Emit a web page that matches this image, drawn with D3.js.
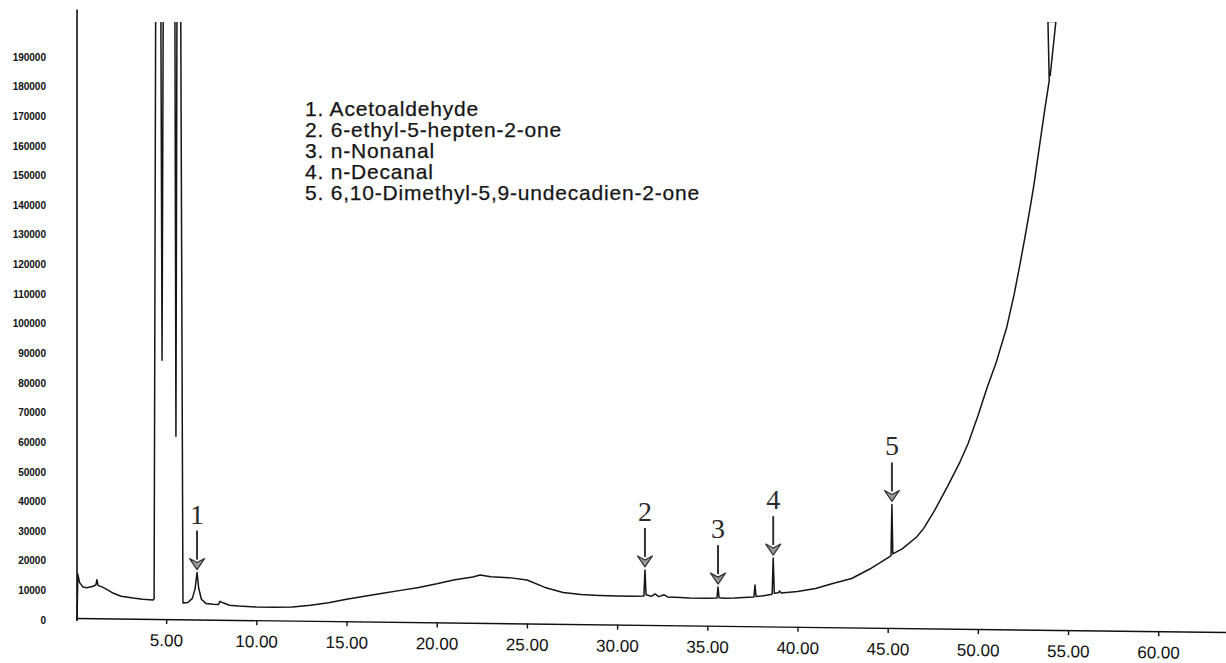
<!DOCTYPE html>
<html><head><meta charset="utf-8">
<script src="https://cdn.jsdelivr.net/npm/d3@7"></script>
<style>html,body{margin:0;padding:0;background:#fff;} svg{display:block}</style>
</head><body>
<svg id="chart" width="1226" height="663"></svg>
<script>
// ---- data ----
const times = [0.06,0.10,0.20,0.39,0.60,0.90,1.10,1.16,1.22,1.50,1.80,2.05,2.50,3.16,3.70,4.27,4.33,4.42,4.70,4.77,4.84,5.48,5.54,5.60,5.80,5.93,
  6.20,6.45,6.60,6.71,6.80,6.95,7.20,7.60,7.90,7.98,8.15,8.50,9.0,10.0,11.0,12.0,13.0,14.0,15.0,16.0,17.0,18.0,19.0,20.0,21.0,22.0,22.4,23.0,24.0,25.0,26.0,27.0,28.0,29.0,30.0,31.0,
  31.48,31.54,31.60,31.9,32.1,32.3,32.6,32.8,33.5,34.0,35.0,35.53,35.59,35.65,36.0,36.5,37.0,37.58,37.64,37.70,38.0,38.59,38.65,38.71,38.95,39.0,39.1,40.0,41.0,42.0,43.0,44.0,45.0,45.18,45.23,45.28,
  45.8,46.6,47.0,47.6,48.3,49.0,49.45,50.0,50.5,51.0,51.6,52.0,52.3,52.6,52.9,53.1,53.3,53.5,53.7,53.95,53.88,54.32,54.00];
const intensities = [0,15500,12600,11100,10900,11300,11800,13600,11700,11000,10000,9100,8000,7400,7000,6750,7200,215000,215000,87700,215000,215000,62000,215000,215000,5700,
  5900,7300,10500,16000,10800,7000,5600,5300,5200,6300,5800,5000,4700,4400,4300,4400,5000,5800,7000,8000,9000,10000,11000,12200,13600,14500,15200,14600,14300,13500,11000,9300,8600,8300,8100,8000,
  8100,16900,8500,8000,8800,7900,8500,7800,7600,7400,7300,7400,11100,7500,7300,7400,7600,7800,11800,7900,8100,8700,20900,9000,9200,9800,9100,9600,10600,12400,14000,17200,21000,21700,39000,22300,
  24000,28000,31000,37000,44900,53300,59500,68900,78300,86700,98900,109700,119100,129000,139400,146800,155300,163700,172100,182000,202000,202000,183500];
const yTickValues = d3.range(0, 190001, 10000);
const xTickValues = [5,10,15,20,25,30,35,40,45,50,55,60];
const legendItems = ["1. Acetoaldehyde","2. 6-ethyl-5-hepten-2-one","3. n-Nonanal","4. n-Decanal","5. 6,10-Dimethyl-5,9-undecadien-2-one"];
const peakLabels = ["1","2","3","4","5"];
const peakTimes = [6.71,31.54,35.59,38.65,45.23];
const peakApex = [16000,16900,11100,20900,39000];

// ---- drawing ----
const svg = d3.select("#chart");
const x = d3.scaleLinear().domain([0, 63.75]).range([76, 1226]);
const y = d3.scaleLinear().domain([0, 190000]).range([620, 57]);

// y axis labels
const yAxis = d3.axisLeft(y).tickValues(yTickValues).tickSize(0).tickPadding(31).tickFormat(d3.format("d"));
const gy = svg.append("g").attr("transform","translate(77,0)").call(yAxis);
gy.select(".domain").remove();
gy.selectAll("text").attr("font-family","Liberation Sans, Arial, sans-serif").attr("font-weight","bold").attr("font-size","10px").attr("fill","#111");
svg.append("line").attr("x1",77).attr("x2",77).attr("y1",y(0)+1).attr("y2",y(206000)).attr("stroke","#111").attr("stroke-width",1.6);

// x axis (scan is slightly tilted)
const xAxis = d3.axisBottom(x).tickValues(xTickValues).tickSize(5).tickSizeOuter(0).tickPadding(10).tickFormat(d3.format(".2f"));
const gx = svg.append("g").attr("transform",`translate(0,${y(0)-2}) rotate(0.7, 76, 0)`).call(xAxis);
gx.select(".domain").attr("stroke","#111").attr("stroke-width",1.4);
gx.selectAll(".tick line").attr("stroke","#111").attr("stroke-width",1.4);
gx.selectAll("text").attr("font-family","Liberation Sans, Arial, sans-serif").attr("font-size","17px").attr("fill","#111");

// trace
svg.append("clipPath").attr("id","clip").append("rect").attr("x",0).attr("y",22).attr("width",1226).attr("height",641);
const pts = times.map((t,i)=>[t,intensities[i]]);
const line = d3.line().x(d=>x(d[0])).y(d=>y(d[1]));
svg.append("path").attr("d",line(pts)).attr("clip-path","url(#clip)")
  .attr("fill","none").attr("stroke","#151515").attr("stroke-width",1.5).attr("stroke-linejoin","round");

// legend
const lg = svg.append("g");
lg.selectAll("text").data(legendItems).join("text")
  .attr("x",305).attr("y",(d,i)=>116+21*i)
  .attr("font-family","Liberation Sans, Arial, sans-serif").attr("font-size","21px").attr("letter-spacing","0.8px")
  .attr("fill","#151515").attr("stroke","#151515").attr("stroke-width",0.25).text(d=>d);

// peak arrows
const ag = svg.append("g");
peakTimes.forEach((t,i)=>{
  const ax = x(t), tip = y(peakApex[i]) - 3;
  ag.append("line").attr("x1",ax).attr("x2",ax).attr("y1",tip-39).attr("y2",tip-10)
    .attr("stroke","#333").attr("stroke-width",2);
  ag.append("path").attr("d",`M${ax-7.5},${tip-11} L${ax},${tip-7} L${ax+7.5},${tip-11} L${ax},${tip} Z`)
    .attr("fill","#9a9a9a").attr("stroke","#333").attr("stroke-width",1.2).attr("stroke-linejoin","round");
  ag.append("text").attr("x",ax).attr("y",tip-46).attr("text-anchor","middle")
    .attr("font-family","Liberation Serif, Times New Roman, serif").attr("font-size","28px").attr("fill","#2a2a2a").text(peakLabels[i]);
});
</script>
</body></html>
